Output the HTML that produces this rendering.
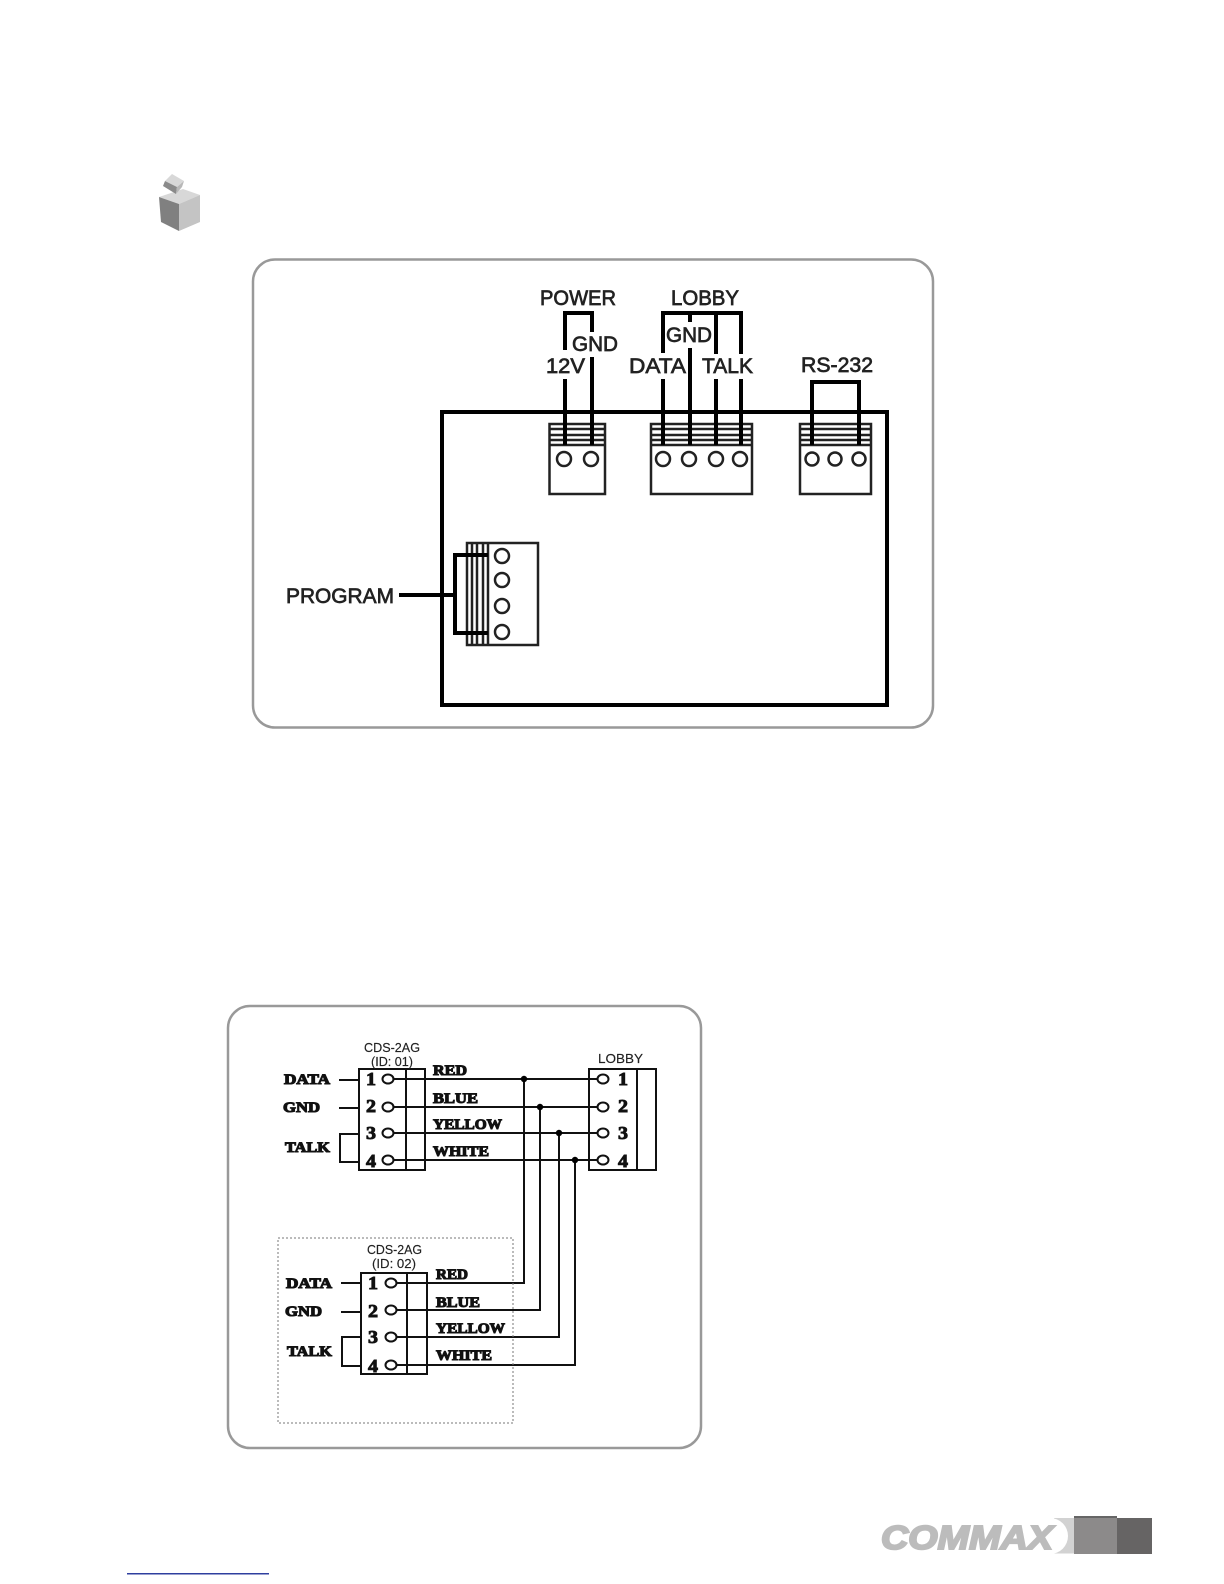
<!DOCTYPE html>
<html>
<head>
<meta charset="utf-8">
<style>
html,body{margin:0;padding:0;background:#fff;width:1224px;height:1584px;overflow:hidden}
svg{display:block}
.a{font-family:"Liberation Sans",sans-serif;font-size:21px;fill:#222;stroke:#222;stroke-width:.7}
.b{font-family:"Liberation Serif",serif;font-weight:bold;font-size:15px;fill:#111;stroke:#111;stroke-width:1.1}
.n{font-family:"Liberation Serif",serif;font-weight:bold;font-size:18px;fill:#111;stroke:#111;stroke-width:.9}
.s{font-family:"Liberation Sans",sans-serif;font-size:13px;fill:#222;stroke:#222;stroke-width:.15}
.w4{stroke:#000;stroke-width:4;fill:none}
.w2{stroke:#111;stroke-width:2;fill:none}
.c{stroke:#222;stroke-width:2.5;fill:#fff}
.d{stroke:#111;stroke-width:2;fill:#fff}
</style>
</head>
<body>
<svg width="1224" height="1584" viewBox="0 0 1224 1584" xmlns="http://www.w3.org/2000/svg">
<rect width="1224" height="1584" fill="#fff"/>

<!-- cube icon -->
<polygon points="159,197 183,189 200,195 179,204" fill="#d8d8d8"/>
<polygon points="159,197 179,204 179,231 161,222" fill="#808080"/>
<polygon points="179,204 200,195 200,222 179,231" fill="#c4c4c4"/>
<polygon points="165,181 172,174 184,181 177,187" fill="#d8d8d8"/>
<polygon points="165,181 177,187 176,194 163,186" fill="#8a8a8a"/>
<polygon points="177,187 184,181 182,187 176,194" fill="#b8b8b8"/>

<!-- panels -->
<rect x="253" y="259.5" width="680" height="468" rx="22" fill="#fff" stroke="#999" stroke-width="2.5"/>
<rect x="228" y="1006" width="473" height="442" rx="22" fill="#fff" stroke="#999" stroke-width="2.5"/>

<!-- main board -->
<rect x="442" y="412" width="445" height="293" fill="none" stroke="#000" stroke-width="4"/>

<!-- connectors top -->
<g fill="#fff" stroke="#222" stroke-width="2.5">
<rect x="549.5" y="424" width="55.5" height="70"/>
<rect x="651" y="424" width="101" height="70"/>
<rect x="800" y="424" width="71" height="70"/>
<rect x="467" y="543" width="71" height="102"/>
</g>
<g stroke="#222" stroke-width="2.5" fill="none">
<path d="M550 429H605M550 435H605M550 440H605M550 445H605"/>
<path d="M651 429H752M651 435H752M651 440H752M651 445H752"/>
<path d="M800 429H871M800 435H871M800 440H871M800 445H871"/>
<path d="M472 543V645M477 543V645M483 543V645M488 543V645"/>
</g>
<g class="c">
<circle class="c" cx="564" cy="459" r="7"/>
<circle class="c" cx="591" cy="459" r="7"/>
<circle class="c" cx="663" cy="459" r="7"/>
<circle class="c" cx="689" cy="459" r="7"/>
<circle class="c" cx="716" cy="459" r="7"/>
<circle class="c" cx="740" cy="459" r="7"/>
<circle class="c" cx="812" cy="459" r="6.5"/>
<circle class="c" cx="835" cy="459" r="6.5"/>
<circle class="c" cx="859" cy="459" r="6.5"/>
<circle class="c" cx="502" cy="556" r="7"/>
<circle class="c" cx="502" cy="580" r="7"/>
<circle class="c" cx="502" cy="606" r="7"/>
<circle class="c" cx="502" cy="632" r="7"/>
</g>

<!-- top wiring -->
<path class="w4" d="M565 350V313H592V332M565 379V445M592 357V445"/>
<path class="w4" d="M663 353V313H741V354M690 313V322M716 313V354M663 379V445M690 348V445M716 379V445M741 379V445"/>
<path class="w4" d="M812 445V382H859V445"/>
<path class="w4" d="M399 595H455M488 555H455V633H488"/>

<!-- top labels -->
<text class="a" x="540" y="305" textLength="76" lengthAdjust="spacingAndGlyphs">POWER</text>
<text class="a" x="572" y="351" textLength="46" lengthAdjust="spacingAndGlyphs">GND</text>
<text class="a" x="546" y="373" textLength="39" lengthAdjust="spacingAndGlyphs">12V</text>
<text class="a" x="671" y="305" textLength="68" lengthAdjust="spacingAndGlyphs">LOBBY</text>
<text class="a" x="666" y="342" textLength="46" lengthAdjust="spacingAndGlyphs">GND</text>
<text class="a" x="629" y="373" textLength="57" lengthAdjust="spacingAndGlyphs">DATA</text>
<text class="a" x="702" y="373" textLength="51" lengthAdjust="spacingAndGlyphs">TALK</text>
<text class="a" x="801" y="372" textLength="72" lengthAdjust="spacingAndGlyphs">RS-232</text>
<text class="a" x="286" y="603" textLength="108" lengthAdjust="spacingAndGlyphs">PROGRAM</text>

<!-- lower diagram: boxes -->
<path class="w2" d="M359 1069H425V1170H359ZM406 1069V1170"/>
<path class="w2" d="M589 1069H656V1170H589ZM637 1069V1170"/>
<path class="w2" d="M361 1273H427V1374H361ZM407 1273V1374"/>

<!-- stubs -->
<path class="w2" d="M339 1080H359M339 1108H359M359 1134H340V1162H359"/>
<path class="w2" d="M341 1283H361M341 1312H361M361 1337H342V1366H361"/>

<!-- wires -->
<path class="w2" d="M393 1079H598M393 1107H598M393 1133H598M393 1160H598"/>
<path class="w2" d="M396 1283H524V1079M396 1310H540V1107M396 1337H559V1133M396 1365H575V1160"/>
<g fill="#000">
<circle cx="524" cy="1079" r="3.2"/>
<circle cx="540" cy="1107" r="3.2"/>
<circle cx="559" cy="1133" r="3.2"/>
<circle cx="575" cy="1160" r="3.2"/>
</g>
<ellipse class="d" cx="388" cy="1079" rx="5.5" ry="4.5"/>
<ellipse class="d" cx="388" cy="1107" rx="5.5" ry="4.5"/>
<ellipse class="d" cx="388" cy="1133" rx="5.5" ry="4.5"/>
<ellipse class="d" cx="388" cy="1160" rx="5.5" ry="4.5"/>
<ellipse class="d" cx="603" cy="1079" rx="5.5" ry="4.5"/>
<ellipse class="d" cx="603" cy="1107" rx="5.5" ry="4.5"/>
<ellipse class="d" cx="603" cy="1133" rx="5.5" ry="4.5"/>
<ellipse class="d" cx="603" cy="1160" rx="5.5" ry="4.5"/>
<ellipse class="d" cx="391" cy="1283" rx="5.5" ry="4.5"/>
<ellipse class="d" cx="391" cy="1310" rx="5.5" ry="4.5"/>
<ellipse class="d" cx="391" cy="1337" rx="5.5" ry="4.5"/>
<ellipse class="d" cx="391" cy="1365" rx="5.5" ry="4.5"/>

<!-- dotted -->
<rect x="278" y="1238" width="235" height="185" fill="none" stroke="#777" stroke-width="1" stroke-dasharray="2 2"/>

<!-- lower labels block 1 -->
<text class="s" x="364" y="1052" textLength="56" lengthAdjust="spacingAndGlyphs">CDS-2AG</text>
<text class="s" x="371" y="1066" textLength="42" lengthAdjust="spacingAndGlyphs">(ID: 01)</text>
<text class="s" x="598" y="1063" textLength="45" lengthAdjust="spacingAndGlyphs">LOBBY</text>
<text class="b" x="284" y="1084" textLength="46" lengthAdjust="spacingAndGlyphs">DATA</text>
<text class="b" x="283" y="1112" textLength="37" lengthAdjust="spacingAndGlyphs">GND</text>
<text class="b" x="285" y="1152" textLength="45" lengthAdjust="spacingAndGlyphs">TALK</text>
<text class="b" x="433" y="1075" textLength="34" lengthAdjust="spacingAndGlyphs">RED</text>
<text class="b" x="433" y="1103" textLength="45" lengthAdjust="spacingAndGlyphs">BLUE</text>
<text class="b" x="433" y="1129" textLength="69" lengthAdjust="spacingAndGlyphs">YELLOW</text>
<text class="b" x="433" y="1156" textLength="56" lengthAdjust="spacingAndGlyphs">WHITE</text>
<text class="n" x="366" y="1085" textLength="10" lengthAdjust="spacingAndGlyphs">1</text>
<text class="n" x="366" y="1112" textLength="10" lengthAdjust="spacingAndGlyphs">2</text>
<text class="n" x="366" y="1139" textLength="10" lengthAdjust="spacingAndGlyphs">3</text>
<text class="n" x="366" y="1167" textLength="10" lengthAdjust="spacingAndGlyphs">4</text>
<text class="n" x="618" y="1085" textLength="10" lengthAdjust="spacingAndGlyphs">1</text>
<text class="n" x="618" y="1112" textLength="10" lengthAdjust="spacingAndGlyphs">2</text>
<text class="n" x="618" y="1139" textLength="10" lengthAdjust="spacingAndGlyphs">3</text>
<text class="n" x="618" y="1167" textLength="10" lengthAdjust="spacingAndGlyphs">4</text>

<!-- lower labels block 2 -->
<text class="s" x="367" y="1254" textLength="55" lengthAdjust="spacingAndGlyphs">CDS-2AG</text>
<text class="s" x="372" y="1268" textLength="44" lengthAdjust="spacingAndGlyphs">(ID: 02)</text>
<text class="b" x="286" y="1288" textLength="46" lengthAdjust="spacingAndGlyphs">DATA</text>
<text class="b" x="285" y="1316" textLength="37" lengthAdjust="spacingAndGlyphs">GND</text>
<text class="b" x="287" y="1356" textLength="45" lengthAdjust="spacingAndGlyphs">TALK</text>
<text class="b" x="436" y="1279" textLength="32" lengthAdjust="spacingAndGlyphs">RED</text>
<text class="b" x="436" y="1307" textLength="44" lengthAdjust="spacingAndGlyphs">BLUE</text>
<text class="b" x="436" y="1333" textLength="69" lengthAdjust="spacingAndGlyphs">YELLOW</text>
<text class="b" x="436" y="1360" textLength="56" lengthAdjust="spacingAndGlyphs">WHITE</text>
<text class="n" x="368" y="1289" textLength="10" lengthAdjust="spacingAndGlyphs">1</text>
<text class="n" x="368" y="1317" textLength="10" lengthAdjust="spacingAndGlyphs">2</text>
<text class="n" x="368" y="1343" textLength="10" lengthAdjust="spacingAndGlyphs">3</text>
<text class="n" x="368" y="1372" textLength="10" lengthAdjust="spacingAndGlyphs">4</text>

<!-- logo -->
<rect x="1054" y="1518" width="20" height="35.5" fill="#d2d2d2"/>
<ellipse cx="1050" cy="1536" rx="18" ry="18" fill="#fff"/>
<text x="881" y="1549" font-family="Liberation Sans,sans-serif" font-weight="bold" font-style="italic" font-size="33" fill="#bcbcbc" stroke="#bcbcbc" stroke-width="2" textLength="172" lengthAdjust="spacingAndGlyphs">COMMAX</text>
<rect x="1074" y="1516" width="43" height="38" fill="#8c8a8a"/>
<rect x="1074" y="1516" width="43" height="2" fill="#666"/>
<rect x="1117" y="1518" width="35" height="36" fill="#666464"/>

<!-- bottom rule -->
<rect x="127" y="1573" width="142" height="1.5" fill="#2f3f9f"/>
</svg>
</body>
</html>
